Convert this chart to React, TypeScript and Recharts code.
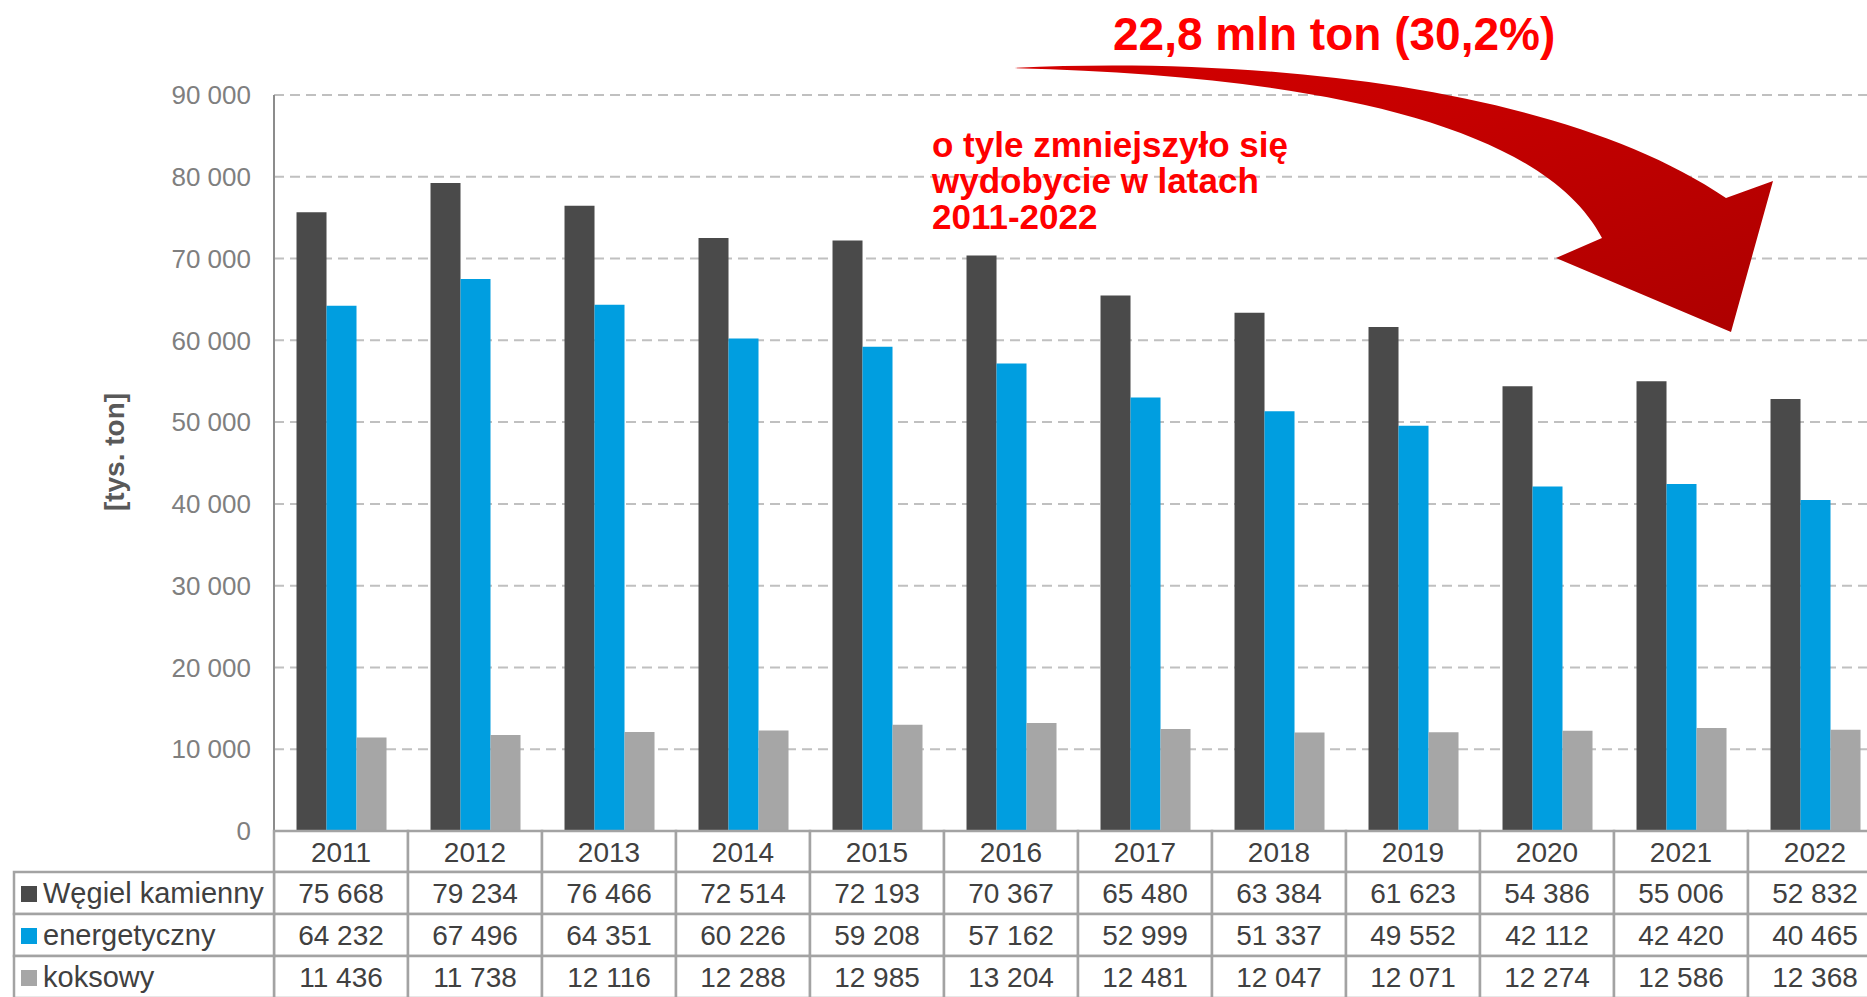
import React from 'react';
import { BarChart, Bar, XAxis, YAxis, CartesianGrid, Label } from 'recharts';

// Wydobycie węgla kamiennego w Polsce [tys. ton]
const years = ['2011', '2012', '2013', '2014', '2015', '2016', '2017', '2018', '2019', '2020', '2021', '2022'];
const wegielKamienny = [75668, 79234, 76466, 72514, 72193, 70367, 65480, 63384, 61623, 54386, 55006, 52832];
const energetyczny = [64232, 67496, 64351, 60226, 59208, 57162, 52999, 51337, 49552, 42112, 42420, 40465];
const koksowy = [11436, 11738, 12116, 12288, 12985, 13204, 12481, 12047, 12071, 12274, 12586, 12368];
const yTicks = [0, 10000, 20000, 30000, 40000, 50000, 60000, 70000, 80000, 90000];

const seriesNames = ['Węgiel kamienny', 'energetyczny', 'koksowy'];
const seriesColors = ['#4a4a4a', '#009ee0', '#a6a6a6'];
const seriesRows = [wegielKamienny, energetyczny, koksowy];

const data = years.map((year, i) => ({
  year,
  wegiel: wegielKamienny[i],
  energ: energetyczny[i],
  koks: koksowy[i],
}));

const FONT = '"Liberation Sans", Arial, sans-serif';
const BORDER = '#a3a3a3';
const TEXT = '#404040';

const Y_AXIS_W = 274;
const BAND = 134;
const PLOT_W = BAND * years.length;
const PLOT_TOP = 95;
const PLOT_H = 736;
const HEAD_H = 41;
const ROW_H = 42;
const LEFT_COL = 260;
const TABLE_H = HEAD_H + ROW_H * 3;

const fmt = (v: number) => String(v).replace(/\B(?=(\d{3})+(?!\d))/g, ' ');

const TableTick = (props: any) => {
  const { x, y, payload } = props;
  const i = years.indexOf(String(payload.value));
  const left = x - BAND / 2;
  return (
    <g>
      <rect x={left} y={y} width={BAND} height={HEAD_H} fill="#fff" stroke={BORDER} strokeWidth={2.5} />
      <text x={x} y={y + HEAD_H / 2 + 10} textAnchor="middle" fontSize={28} fontFamily={FONT} fill={TEXT}>
        {payload.value}
      </text>
      {seriesRows.map((row, k) => {
        const top = y + HEAD_H + k * ROW_H;
        return (
          <g key={k}>
            <rect x={left} y={top} width={BAND} height={ROW_H} fill="#fff" stroke={BORDER} strokeWidth={2.5} />
            <text x={x} y={top + ROW_H / 2 + 10} textAnchor="middle" fontSize={28} fontFamily={FONT} fill={TEXT}>
              {fmt(row[i])}
            </text>
          </g>
        );
      })}
      {i === 0 &&
        seriesNames.map((name, k) => {
          const top = y + HEAD_H + k * ROW_H;
          const l = left - LEFT_COL;
          return (
            <g key={'l' + k}>
              <rect x={l} y={top} width={LEFT_COL} height={ROW_H} fill="#fff" stroke={BORDER} strokeWidth={2.5} />
              <rect x={l + 7} y={top + ROW_H / 2 - 7} width={16} height={16} fill={seriesColors[k]} />
              <text x={l + 29} y={top + ROW_H / 2 + 10} fontSize={29} fontFamily={FONT} fill={TEXT}>
                {name}
              </text>
            </g>
          );
        })}
    </g>
  );
};

const YLabel = (props: any) => {
  const vb = props.viewBox || { x: 0, y: PLOT_TOP, width: Y_AXIS_W, height: PLOT_H };
  const cx = vb.x + 124;
  const cy = vb.y + vb.height / 2 - 11;
  return (
    <text
      x={cx}
      y={cy}
      transform={`rotate(-90 ${cx} ${cy})`}
      textAnchor="middle"
      fontSize={28}
      fontWeight="bold"
      fontFamily={FONT}
      fill="#595959"
    >
      [tys. ton]
    </text>
  );
};

const Annotation = () => (
  <svg
    width={1867}
    height={997}
    style={{ position: 'absolute', left: 0, top: 0, pointerEvents: 'none' }}
  >
    <defs>
      <linearGradient id="arrowFill" x1="0" y1="0" x2="1" y2="1">
        <stop offset="0%" stopColor="#d40000" />
        <stop offset="100%" stopColor="#ad0000" />
      </linearGradient>
    </defs>
    <path
      d="M 1011 68 C 1250 56 1560 85 1726 198 L 1773 181 L 1731 332 L 1556 258 L 1602 238 C 1540 120 1300 75 1011 68 Z"
      fill="url(#arrowFill)"
    />
    <text x={1113} y={50} fontSize={46} fontWeight="bold" fontFamily={FONT} fill="#ff0000">
      22,8 mln ton (30,2%)
    </text>
    <text fontSize={35} fontWeight="bold" fontFamily={FONT} fill="#ff0000">
      <tspan x={932} y={157}>o tyle zmniejszyło się</tspan>
      <tspan x={932} y={193}>wydobycie w latach</tspan>
      <tspan x={932} y={229}>2011-2022</tspan>
    </text>
  </svg>
);

export default function App() {
  return (
    <div
      style={{
        position: 'absolute',
        left: 0,
        top: 0,
        width: 1867,
        height: 997,
        overflow: 'hidden',
        background: '#fff',
        fontFamily: FONT,
      }}
    >
      <BarChart
        width={Y_AXIS_W + PLOT_W + 10}
        height={PLOT_TOP + PLOT_H + TABLE_H}
        data={data}
        margin={{ top: PLOT_TOP, right: 10, left: 0, bottom: 0 }}
        barCategoryGap="16.8%"
        barGap={0}
      >
        <CartesianGrid vertical={false} stroke="#c0c0c0" strokeWidth={2} strokeDasharray="10 6" />
        <YAxis
          width={Y_AXIS_W}
          domain={[0, 90000]}
          ticks={yTicks}
          interval={0}
          tickFormatter={fmt}
          tickLine={false}
          tickSize={6}
          tickMargin={17}
          axisLine={{ stroke: '#8c8c8c', strokeWidth: 2 }}
          tick={{ fill: '#7f7f7f', fontSize: 26, fontFamily: FONT }}
        >
          <Label content={<YLabel />} />
        </YAxis>
        <XAxis
          dataKey="year"
          height={TABLE_H}
          interval={0}
          tickLine={false}
          tickSize={0}
          tickMargin={0}
          axisLine={false}
          tick={<TableTick />}
        />
        <Bar dataKey="wegiel" name={seriesNames[0]} fill={seriesColors[0]} isAnimationActive={false} />
        <Bar dataKey="energ" name={seriesNames[1]} fill={seriesColors[1]} isAnimationActive={false} />
        <Bar dataKey="koks" name={seriesNames[2]} fill={seriesColors[2]} isAnimationActive={false} />
      </BarChart>
      <Annotation />
    </div>
  );
}
